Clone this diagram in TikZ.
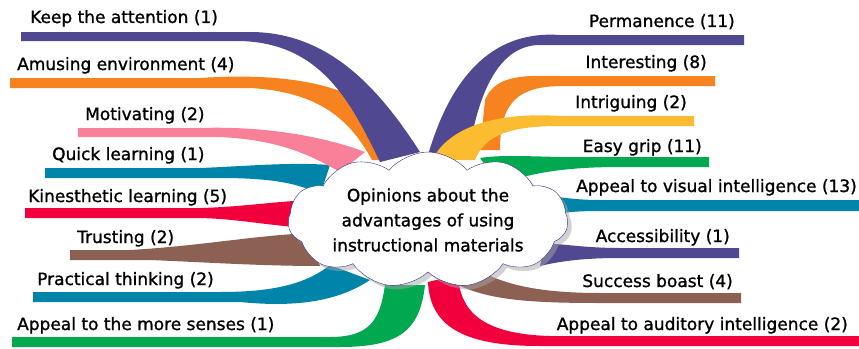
\documentclass[tikz,border=0pt]{standalone}
\usepackage{fontspec}
\setmainfont{DejaVu Sans}[FakeBold=1.2]
\usetikzlibrary{shapes.symbols,shadows}
\definecolor{bpurple}{RGB}{80,72,145}
\definecolor{borange}{RGB}{247,130,32}
\definecolor{bpink}{RGB}{248,128,152}
\definecolor{bteal}{RGB}{0,132,170}
\definecolor{bred}{RGB}{242,0,62}
\definecolor{bbrown}{RGB}{140,96,82}
\definecolor{bgreen}{RGB}{0,168,80}
\definecolor{byellow}{RGB}{252,188,50}
\definecolor{cloudline}{RGB}{43,47,138}
\begin{document}
\begin{tikzpicture}[x=1pt, y=-1pt, font=\fontsize{17}{25}\selectfont,
  lab/.style={anchor=base west, inner sep=0pt},
  rlab/.style={anchor=base east, inner sep=0pt}]
\useasboundingbox (0,0) rectangle (859,348);

\fill[bteal] (45,168) -- (200,168) .. controls (250,166) and (290,162) .. (330,165) -- (320,195) .. controls (300,183) and (270,178) .. (220,178) -- (45,178) -- cycle;
\fill[bpink] (78,128) -- (200,128) .. controls (260,126) and (320,135) .. (365,152) -- (340,172) .. controls (310,155) and (280,140) .. (220,137) -- (78,137) -- cycle;
\fill[borange] (10,78) -- (200,78) .. controls (260,74) and (320,78) .. (360,100) -- (385,160) -- (372,160) .. controls (350,120) and (320,92) .. (250,88) -- (10,88) -- cycle;
\fill[bpurple] (21,32) -- (250,32) .. controls (330,32) and (380,90) .. (420,152) -- (380,162) .. controls (350,100) and (320,43) .. (240,41) -- (21,41) -- cycle;
\fill[bred] (25,208) -- (200,208) .. controls (240,207) and (270,202) .. (310,200) -- (310,228) .. controls (270,226) and (240,219) .. (200,218) -- (25,218) -- cycle;
\fill[bbrown] (70,250) -- (130,250) .. controls (200,246) and (250,236) .. (310,233) -- (320,266) .. controls (260,266) and (200,262) .. (150,260) -- (70,260) -- cycle;
\fill[bteal] (33,292) -- (220,292) .. controls (270,292) and (305,285) .. (330,265) -- (370,280) .. controls (340,300) and (300,308) .. (240,302) -- (33,302) -- cycle;
\fill[bgreen] (12,337) -- (330,337) .. controls (370,337) and (380,320) .. (385,285) -- (425,285) .. controls (420,330) and (400,347) .. (340,347) -- (12,347) -- cycle;

\fill[bpurple] (744,35) -- (560,35) .. controls (490,30) and (450,80) .. (428,155) -- (468,158) .. controls (478,90) and (500,45) .. (540,45) -- (744,45) -- cycle;
\fill[borange] (715,76) -- (560,76) .. controls (520,75) and (495,76) .. (485,100) -- (480,150) -- (500,150) .. controls (500,100) and (520,87) .. (560,86) -- (715,86) -- cycle;
\fill[byellow] (694,116) -- (560,116) .. controls (500,112) and (450,125) .. (432,160) -- (475,160) .. controls (485,135) and (510,126) .. (560,126) -- (694,126) -- cycle;
\fill[bgreen] (709,157) -- (560,157) .. controls (520,156) and (500,155) .. (480,158) -- (500,185) .. controls (530,172) and (570,167) .. (620,167) -- (709,167) -- cycle;
\fill[bteal] (859,200) -- (600,200) .. controls (580,200) and (565,198) .. (550,196) -- (550,215) .. controls (565,212) and (580,211) .. (600,211) -- (859,211) -- cycle;
\fill[bpurple] (739,248) -- (620,248) .. controls (590,248) and (570,245) .. (545,243) -- (540,266) .. controls (565,260) and (590,258) .. (620,258) -- (739,258) -- cycle;
\fill[bbrown] (741,293) -- (600,293) .. controls (540,293) and (500,285) .. (470,265) -- (458,285) .. controls (490,300) and (530,303) .. (600,303) -- (741,303) -- cycle;
\fill[bred] (859,336) -- (550,336) .. controls (480,334) and (460,310) .. (458,275) -- (428,282) .. controls (430,330) and (470,346) .. (540,346) -- (859,346) -- cycle;

\node (op) at (428,220) [cloud, cloud puffs=11, cloud puff arc=100, cloud ignores aspect, minimum width=280pt, minimum height=136pt, inner sep=0pt, draw=cloudline, fill=white, align=center, drop shadow={shadow xshift=4pt, shadow yshift=-4pt, fill=black!35}] {Opinions about the\\advantages of using\\instructional materials};

\node (l1) at (30,23) [lab] {Keep the attention (1)};
\node (l2) at (17,70) [lab] {Amusing environment (4)};
\node (l3) at (85,120) [lab] {Motivating (2)};
\node (l4) at (52,160) [lab] {Quick learning (1)};
\node (l5) at (28,202) [lab] {Kinesthetic learning (5)};
\node (l6) at (77,243) [lab] {Trusting (2)};
\node (l7) at (37,285) [lab] {Practical thinking (2)};
\node (l8) at (17,330) [lab] {Appeal to the more senses (1)};

\node (r1) at (735,27) [rlab] {Permanence (11)};
\node (r2) at (707,68) [rlab] {Interesting (8)};
\node (r3) at (687,108) [rlab] {Intriguing (2)};
\node (r4) at (702,152) [rlab] {Easy grip (11)};
\node (r5) at (857,192) [rlab] {Appeal to visual intelligence (13)};
\node (r6) at (730,242) [rlab] {Accessibility (1)};
\node (r7) at (733,287) [rlab] {Success boast (4)};
\node (r8) at (848,330) [rlab] {Appeal to auditory intelligence (2)};
\end{tikzpicture}
\end{document}
